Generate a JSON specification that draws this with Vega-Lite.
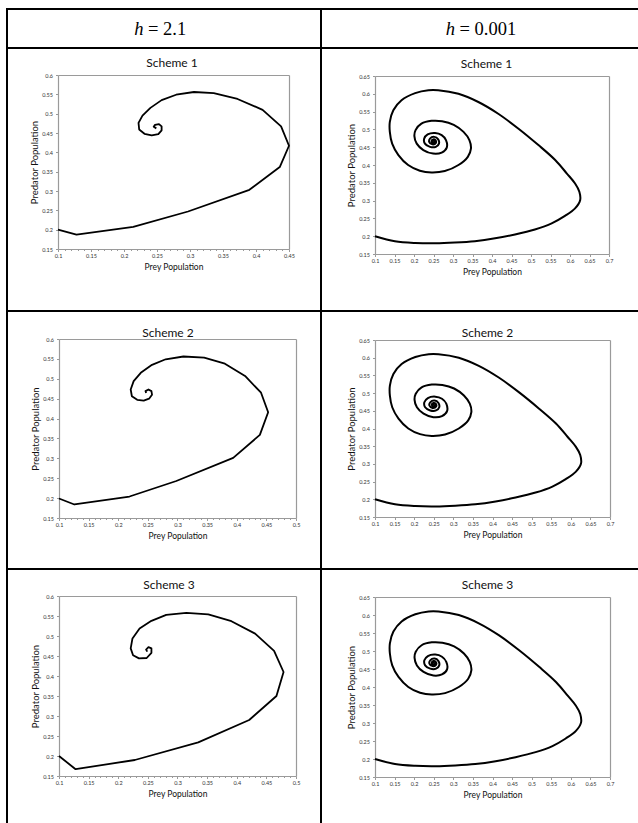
{
  "$schema": "https://vega.github.io/schema/vega-lite/v6.json",
  "padding": {"left": 6, "top": 8, "right": 0, "bottom": 0},
  "background": "white",
  "columns": 4,
  "spacing": 0,
  "bounds": "flush",
  "align": "each",
  "datasets": {
    "s1": [
      {"i":0,"x":0.100,"y":0.200},{"i":1,"x":0.128,"y":0.187},{"i":2,"x":0.214,"y":0.207},{"i":3,"x":0.297,"y":0.247},
      {"i":4,"x":0.390,"y":0.303},{"i":5,"x":0.436,"y":0.362},{"i":6,"x":0.450,"y":0.417},{"i":7,"x":0.438,"y":0.467},
      {"i":8,"x":0.410,"y":0.510},{"i":9,"x":0.372,"y":0.538},{"i":10,"x":0.336,"y":0.553},{"i":11,"x":0.306,"y":0.556},
      {"i":12,"x":0.279,"y":0.549},{"i":13,"x":0.257,"y":0.535},{"i":14,"x":0.240,"y":0.515},{"i":15,"x":0.228,"y":0.495},
      {"i":16,"x":0.222,"y":0.476},{"i":17,"x":0.223,"y":0.459},{"i":18,"x":0.231,"y":0.448},{"i":19,"x":0.242,"y":0.444},
      {"i":20,"x":0.252,"y":0.447},{"i":21,"x":0.257,"y":0.457},{"i":22,"x":0.257,"y":0.467},{"i":23,"x":0.253,"y":0.473},
      {"i":24,"x":0.247,"y":0.471},{"i":25,"x":0.245,"y":0.466},{"i":26,"x":0.249,"y":0.462}
    ],
    "s2": [
      {"i":0,"x":0.100,"y":0.199},{"i":1,"x":0.126,"y":0.184},{"i":2,"x":0.219,"y":0.204},{"i":3,"x":0.298,"y":0.243},
      {"i":4,"x":0.394,"y":0.301},{"i":5,"x":0.439,"y":0.359},{"i":6,"x":0.453,"y":0.416},{"i":7,"x":0.441,"y":0.465},
      {"i":8,"x":0.414,"y":0.507},{"i":9,"x":0.380,"y":0.538},{"i":10,"x":0.345,"y":0.553},{"i":11,"x":0.310,"y":0.556},
      {"i":12,"x":0.280,"y":0.549},{"i":13,"x":0.257,"y":0.535},{"i":14,"x":0.238,"y":0.515},{"i":15,"x":0.226,"y":0.494},
      {"i":16,"x":0.221,"y":0.473},{"i":17,"x":0.223,"y":0.456},{"i":18,"x":0.232,"y":0.447},{"i":19,"x":0.243,"y":0.445},
      {"i":20,"x":0.252,"y":0.450},{"i":21,"x":0.257,"y":0.460},{"i":22,"x":0.256,"y":0.469},{"i":23,"x":0.251,"y":0.473},
      {"i":24,"x":0.246,"y":0.469},{"i":25,"x":0.247,"y":0.464}
    ],
    "s3": [
      {"i":0,"x":0.100,"y":0.200},{"i":1,"x":0.128,"y":0.167},{"i":2,"x":0.228,"y":0.190},{"i":3,"x":0.335,"y":0.234},
      {"i":4,"x":0.421,"y":0.290},{"i":5,"x":0.467,"y":0.350},{"i":6,"x":0.479,"y":0.410},{"i":7,"x":0.463,"y":0.463},
      {"i":8,"x":0.431,"y":0.506},{"i":9,"x":0.391,"y":0.537},{"i":10,"x":0.352,"y":0.554},{"i":11,"x":0.315,"y":0.558},
      {"i":12,"x":0.281,"y":0.553},{"i":13,"x":0.256,"y":0.538},{"i":14,"x":0.236,"y":0.519},{"i":15,"x":0.224,"y":0.494},
      {"i":16,"x":0.221,"y":0.469},{"i":17,"x":0.225,"y":0.452},{"i":18,"x":0.235,"y":0.444},{"i":19,"x":0.248,"y":0.445},
      {"i":20,"x":0.256,"y":0.458},{"i":21,"x":0.256,"y":0.469},{"i":22,"x":0.251,"y":0.472},{"i":23,"x":0.247,"y":0.466},
      {"i":24,"x":0.249,"y":0.461}
    ],
    "fine": [
      {"i":0,"x":0.100,"y":0.200},{"i":1,"x":0.151,"y":0.186},{"i":2,"x":0.203,"y":0.181},{"i":3,"x":0.254,"y":0.180},
      {"i":4,"x":0.305,"y":0.182},{"i":5,"x":0.356,"y":0.186},{"i":6,"x":0.408,"y":0.194},{"i":7,"x":0.459,"y":0.205},
      {"i":8,"x":0.510,"y":0.219},{"i":9,"x":0.553,"y":0.236},{"i":10,"x":0.587,"y":0.257},{"i":11,"x":0.613,"y":0.278},
      {"i":12,"x":0.626,"y":0.301},{"i":13,"x":0.624,"y":0.325},{"i":14,"x":0.613,"y":0.348},{"i":15,"x":0.592,"y":0.376},
      {"i":16,"x":0.562,"y":0.414},{"i":17,"x":0.519,"y":0.456},{"i":18,"x":0.468,"y":0.502},{"i":19,"x":0.416,"y":0.544},
      {"i":20,"x":0.365,"y":0.577},{"i":21,"x":0.314,"y":0.600},{"i":22,"x":0.262,"y":0.610},{"i":23,"x":0.237,"y":0.610},
      {"i":24,"x":0.203,"y":0.602},{"i":25,"x":0.168,"y":0.582},{"i":26,"x":0.147,"y":0.554},{"i":27,"x":0.138,"y":0.521},
      {"i":28,"x":0.138,"y":0.493},{"i":29,"x":0.144,"y":0.460},{"i":30,"x":0.160,"y":0.428},{"i":31,"x":0.185,"y":0.400},
      {"i":32,"x":0.215,"y":0.384},{"i":33,"x":0.245,"y":0.379},{"i":34,"x":0.279,"y":0.383},{"i":35,"x":0.314,"y":0.400},
      {"i":36,"x":0.338,"y":0.423},{"i":37,"x":0.346,"y":0.446},{"i":38,"x":0.342,"y":0.470},{"i":39,"x":0.327,"y":0.493},
      {"i":40,"x":0.302,"y":0.513},{"i":41,"x":0.272,"y":0.523},{"i":42,"x":0.245,"y":0.524},{"i":43,"x":0.219,"y":0.516},
      {"i":44,"x":0.204,"y":0.498},{"i":45,"x":0.201,"y":0.481},{"i":46,"x":0.207,"y":0.460},{"i":47,"x":0.224,"y":0.442},
      {"i":48,"x":0.249,"y":0.432},{"i":49,"x":0.271,"y":0.435},{"i":50,"x":0.284,"y":0.449},{"i":51,"x":0.282,"y":0.470},
      {"i":52,"x":0.271,"y":0.484},{"i":53,"x":0.254,"y":0.490},{"i":54,"x":0.235,"y":0.486},{"i":55,"x":0.226,"y":0.474},
      {"i":56,"x":0.228,"y":0.460},{"i":57,"x":0.241,"y":0.451},{"i":58,"x":0.256,"y":0.451},{"i":59,"x":0.264,"y":0.460},
      {"i":60,"x":0.262,"y":0.472},{"i":61,"x":0.252,"y":0.479},{"i":62,"x":0.241,"y":0.474},{"i":63,"x":0.239,"y":0.465},
      {"i":64,"x":0.247,"y":0.458},{"i":65,"x":0.256,"y":0.462},{"i":66,"x":0.255,"y":0.470},{"i":67,"x":0.249,"y":0.472},
      {"i":68,"x":0.245,"y":0.467},{"i":69,"x":0.249,"y":0.462},{"i":70,"x":0.254,"y":0.465},{"i":71,"x":0.253,"y":0.470},
      {"i":72,"x":0.248,"y":0.470},{"i":73,"x":0.247,"y":0.465},{"i":74,"x":0.251,"y":0.464},{"i":75,"x":0.252,"y":0.468},
      {"i":76,"x":0.249,"y":0.468},{"i":77,"x":0.250,"y":0.466}
    ]
  },
  "concat": [
    {"width": 2, "height": 2, "data": {"values": []}, "mark": "rect", "view": {"fill": "black", "stroke": null}},
    {"width": 312, "height": 2, "data": {"values": []}, "mark": "rect", "view": {"fill": "black", "stroke": null}},
    {"width": 2, "height": 2, "data": {"values": []}, "mark": "rect", "view": {"fill": "black", "stroke": null}},
    {"width": 316, "height": 2, "data": {"values": []}, "mark": "rect", "view": {"fill": "black", "stroke": null}},

    {"width": 2, "height": 37, "data": {"values": []}, "mark": "rect", "view": {"fill": "black", "stroke": null}},
    {"width": 312, "height": 37, "data": {"values": [{"sym": "h", "rest": "= 2.1"}]},
      "layer": [
        {"mark": {"type": "text", "font": "Liberation Serif", "fontStyle": "italic", "fontSize": 18.5, "align": "right", "baseline": "middle", "dx": -20.5, "color": "black"}, "encoding": {"text": {"field": "sym"}}},
        {"mark": {"type": "text", "font": "Liberation Serif", "fontSize": 18.5, "align": "left", "baseline": "middle", "dx": -16, "color": "black"}, "encoding": {"text": {"field": "rest"}}}
      ]},
    {"width": 2, "height": 37, "data": {"values": []}, "mark": "rect", "view": {"fill": "black", "stroke": null}},
    {"width": 316, "height": 37, "data": {"values": [{"sym": "h", "rest": "= 0.001"}]},
      "layer": [
        {"mark": {"type": "text", "font": "Liberation Serif", "fontStyle": "italic", "fontSize": 18.5, "align": "right", "baseline": "middle", "dx": -25, "color": "black"}, "encoding": {"text": {"field": "sym"}}},
        {"mark": {"type": "text", "font": "Liberation Serif", "fontSize": 18.5, "align": "left", "baseline": "middle", "dx": -20.5, "color": "black"}, "encoding": {"text": {"field": "rest"}}}
      ]},

    {"width": 2, "height": 2, "data": {"values": []}, "mark": "rect", "view": {"fill": "black", "stroke": null}},
    {"width": 312, "height": 2, "data": {"values": []}, "mark": "rect", "view": {"fill": "black", "stroke": null}},
    {"width": 2, "height": 2, "data": {"values": []}, "mark": "rect", "view": {"fill": "black", "stroke": null}},
    {"width": 316, "height": 2, "data": {"values": []}, "mark": "rect", "view": {"fill": "black", "stroke": null}},

    {"width": 2, "height": 261, "data": {"values": []}, "mark": "rect", "view": {"fill": "black", "stroke": null}},
    {"width": 312, "height": 261,
      "title": {"text": "Scheme 1", "frame": "group", "anchor": "middle", "baseline": "middle", "offset": 0, "dx": 8, "dy": 26},
      "data": {"name": "s1"},
      "layer": [
        {"mark": {"type": "line", "color": "black", "strokeWidth": 1.8, "strokeJoin": "round"},
          "encoding": {
            "x": {"field": "x", "type": "quantitative", "scale": {"domain": [0.1, 0.45], "range": [50, 281], "nice": false, "zero": false},
              "axis": {"orient": "bottom", "offset": -61, "values": [0.1, 0.15, 0.2, 0.25, 0.3, 0.35, 0.4, 0.45], "format": ".2~f", "title": "Prey Population"}},
            "y": {"field": "y", "type": "quantitative", "scale": {"domain": [0.15, 0.6], "range": [200, 26], "nice": false, "zero": false},
              "axis": {"orient": "left", "offset": -50, "values": [0.15, 0.2, 0.25, 0.3, 0.35, 0.4, 0.45, 0.5, 0.55, 0.6], "format": ".2~f", "title": "Predator Population"}},
            "order": {"field": "i"}
          }},
        {"mark": {"type": "point", "opacity": 0},
          "encoding": {
            "x": {"field": "x", "type": "quantitative", "axis": {"orient": "top", "offset": -26, "ticks": false, "labels": false, "title": null}},
            "y": {"field": "y", "type": "quantitative", "axis": {"orient": "right", "offset": -31, "ticks": false, "labels": false, "title": null}}
          }},
        {"mark": {"type": "point", "opacity": 0},
          "encoding": {
            "x": {"field": "x", "type": "quantitative", "axis": {"orient": "bottom", "offset": -61, "domain": false, "labels": false, "tickSize": 1.5, "title": null,
              "values": [0.11,0.12,0.13,0.14,0.16,0.17,0.18,0.19,0.21,0.22,0.23,0.24,0.26,0.27,0.28,0.29,0.31,0.32,0.33,0.34,0.36,0.37,0.38,0.39,0.41,0.42,0.43,0.44]}},
            "y": {"field": "y", "type": "quantitative", "axis": null}
          }}
      ],
      "resolve": {"axis": {"x": "independent", "y": "independent"}}
    },
    {"width": 2, "height": 261, "data": {"values": []}, "mark": "rect", "view": {"fill": "black", "stroke": null}},
    {"width": 316, "height": 261,
      "title": {"text": "Scheme 1", "frame": "group", "anchor": "middle", "baseline": "middle", "offset": 0, "dx": 6.5, "dy": 26.5},
      "data": {"name": "fine"},
      "layer": [
        {"mark": {"type": "line", "color": "black", "strokeWidth": 2, "interpolate": "catmull-rom"},
          "encoding": {
            "x": {"field": "x", "type": "quantitative", "scale": {"domain": [0.1, 0.7], "range": [53, 287], "nice": false, "zero": false},
              "axis": {"orient": "bottom", "offset": -56, "values": [0.1, 0.15, 0.2, 0.25, 0.3, 0.35, 0.4, 0.45, 0.5, 0.55, 0.6, 0.65, 0.7], "format": ".2~f", "title": "Prey Population"}},
            "y": {"field": "y", "type": "quantitative", "scale": {"domain": [0.15, 0.65], "range": [205, 27], "nice": false, "zero": false},
              "axis": {"orient": "left", "offset": -53, "values": [0.15, 0.2, 0.25, 0.3, 0.35, 0.4, 0.45, 0.5, 0.55, 0.6, 0.65], "format": ".2~f", "title": "Predator Population"}},
            "order": {"field": "i"}
          }},
        {"mark": {"type": "point", "opacity": 0},
          "encoding": {
            "x": {"field": "x", "type": "quantitative", "axis": {"orient": "top", "offset": -27, "ticks": false, "labels": false, "title": null}},
            "y": {"field": "y", "type": "quantitative", "axis": {"orient": "right", "offset": -29, "ticks": false, "labels": false, "title": null}}
          }}
      ],
      "resolve": {"axis": {"x": "independent", "y": "independent"}}
    },

    {"width": 2, "height": 2, "data": {"values": []}, "mark": "rect", "view": {"fill": "black", "stroke": null}},
    {"width": 312, "height": 2, "data": {"values": []}, "mark": "rect", "view": {"fill": "black", "stroke": null}},
    {"width": 2, "height": 2, "data": {"values": []}, "mark": "rect", "view": {"fill": "black", "stroke": null}},
    {"width": 316, "height": 2, "data": {"values": []}, "mark": "rect", "view": {"fill": "black", "stroke": null}},

    {"width": 2, "height": 256, "data": {"values": []}, "mark": "rect", "view": {"fill": "black", "stroke": null}},
    {"width": 312, "height": 256,
      "title": {"text": "Scheme 2", "frame": "group", "anchor": "middle", "baseline": "middle", "offset": 0, "dx": 4, "dy": 33},
      "data": {"name": "s2"},
      "layer": [
        {"mark": {"type": "line", "color": "black", "strokeWidth": 1.8, "strokeJoin": "round"},
          "encoding": {
            "x": {"field": "x", "type": "quantitative", "scale": {"domain": [0.1, 0.5], "range": [51, 288], "nice": false, "zero": false},
              "axis": {"orient": "bottom", "offset": -50, "values": [0.1, 0.15, 0.2, 0.25, 0.3, 0.35, 0.4, 0.45, 0.5], "format": ".2~f", "title": "Prey Population"}},
            "y": {"field": "y", "type": "quantitative", "scale": {"domain": [0.15, 0.6], "range": [206, 27], "nice": false, "zero": false},
              "axis": {"orient": "left", "offset": -51, "values": [0.15, 0.2, 0.25, 0.3, 0.35, 0.4, 0.45, 0.5, 0.55, 0.6], "format": ".2~f", "title": "Predator Population"}},
            "order": {"field": "i"}
          }},
        {"mark": {"type": "point", "opacity": 0},
          "encoding": {
            "x": {"field": "x", "type": "quantitative", "axis": {"orient": "top", "offset": -27, "ticks": false, "labels": false, "title": null}},
            "y": {"field": "y", "type": "quantitative", "axis": {"orient": "right", "offset": -24, "ticks": false, "labels": false, "title": null}}
          }},
        {"mark": {"type": "point", "opacity": 0},
          "encoding": {
            "x": {"field": "x", "type": "quantitative", "axis": {"orient": "bottom", "offset": -50, "domain": false, "labels": false, "tickSize": 1.5, "title": null,
              "values": [0.11,0.12,0.13,0.14,0.16,0.17,0.18,0.19,0.21,0.22,0.23,0.24,0.26,0.27,0.28,0.29,0.31,0.32,0.33,0.34,0.36,0.37,0.38,0.39,0.41,0.42,0.43,0.44,0.46,0.47,0.48,0.49]}},
            "y": {"field": "y", "type": "quantitative", "axis": null}
          }}
      ],
      "resolve": {"axis": {"x": "independent", "y": "independent"}}
    },
    {"width": 2, "height": 256, "data": {"values": []}, "mark": "rect", "view": {"fill": "black", "stroke": null}},
    {"width": 316, "height": 256,
      "title": {"text": "Scheme 2", "frame": "group", "anchor": "middle", "baseline": "middle", "offset": 0, "dx": 7.5, "dy": 33},
      "data": {"name": "fine"},
      "layer": [
        {"mark": {"type": "line", "color": "black", "strokeWidth": 2, "interpolate": "catmull-rom"},
          "encoding": {
            "x": {"field": "x", "type": "quantitative", "scale": {"domain": [0.1, 0.7], "range": [53, 288], "nice": false, "zero": false},
              "axis": {"orient": "bottom", "offset": -51, "values": [0.1, 0.15, 0.2, 0.25, 0.3, 0.35, 0.4, 0.45, 0.5, 0.55, 0.6, 0.65, 0.7], "format": ".2~f", "title": "Prey Population"}},
            "y": {"field": "y", "type": "quantitative", "scale": {"domain": [0.15, 0.65], "range": [205, 28], "nice": false, "zero": false},
              "axis": {"orient": "left", "offset": -53, "values": [0.15, 0.2, 0.25, 0.3, 0.35, 0.4, 0.45, 0.5, 0.55, 0.6, 0.65], "format": ".2~f", "title": "Predator Population"}},
            "order": {"field": "i"}
          }},
        {"mark": {"type": "point", "opacity": 0},
          "encoding": {
            "x": {"field": "x", "type": "quantitative", "axis": {"orient": "top", "offset": -28, "ticks": false, "labels": false, "title": null}},
            "y": {"field": "y", "type": "quantitative", "axis": {"orient": "right", "offset": -28, "ticks": false, "labels": false, "title": null}}
          }}
      ],
      "resolve": {"axis": {"x": "independent", "y": "independent"}}
    },

    {"width": 2, "height": 2, "data": {"values": []}, "mark": "rect", "view": {"fill": "black", "stroke": null}},
    {"width": 312, "height": 2, "data": {"values": []}, "mark": "rect", "view": {"fill": "black", "stroke": null}},
    {"width": 2, "height": 2, "data": {"values": []}, "mark": "rect", "view": {"fill": "black", "stroke": null}},
    {"width": 316, "height": 2, "data": {"values": []}, "mark": "rect", "view": {"fill": "black", "stroke": null}},

    {"width": 2, "height": 253, "data": {"values": []}, "mark": "rect", "view": {"fill": "black", "stroke": null}},
    {"width": 312, "height": 253,
      "title": {"text": "Scheme 3", "frame": "group", "anchor": "middle", "baseline": "middle", "offset": 0, "dx": 5, "dy": 27},
      "data": {"name": "s3"},
      "layer": [
        {"mark": {"type": "line", "color": "black", "strokeWidth": 1.8, "strokeJoin": "round"},
          "encoding": {
            "x": {"field": "x", "type": "quantitative", "scale": {"domain": [0.1, 0.5], "range": [51, 288], "nice": false, "zero": false},
              "axis": {"orient": "bottom", "offset": -47, "values": [0.1, 0.15, 0.2, 0.25, 0.3, 0.35, 0.4, 0.45, 0.5], "format": ".2~f", "title": "Prey Population"}},
            "y": {"field": "y", "type": "quantitative", "scale": {"domain": [0.15, 0.6], "range": [206, 26], "nice": false, "zero": false},
              "axis": {"orient": "left", "offset": -51, "values": [0.15, 0.2, 0.25, 0.3, 0.35, 0.4, 0.45, 0.5, 0.55, 0.6], "format": ".2~f", "title": "Predator Population"}},
            "order": {"field": "i"}
          }},
        {"mark": {"type": "point", "opacity": 0},
          "encoding": {
            "x": {"field": "x", "type": "quantitative", "axis": {"orient": "top", "offset": -26, "ticks": false, "labels": false, "title": null}},
            "y": {"field": "y", "type": "quantitative", "axis": {"orient": "right", "offset": -24, "ticks": false, "labels": false, "title": null}}
          }},
        {"mark": {"type": "point", "opacity": 0},
          "encoding": {
            "x": {"field": "x", "type": "quantitative", "axis": {"orient": "bottom", "offset": -47, "domain": false, "labels": false, "tickSize": 1.5, "title": null,
              "values": [0.11,0.12,0.13,0.14,0.16,0.17,0.18,0.19,0.21,0.22,0.23,0.24,0.26,0.27,0.28,0.29,0.31,0.32,0.33,0.34,0.36,0.37,0.38,0.39,0.41,0.42,0.43,0.44,0.46,0.47,0.48,0.49]}},
            "y": {"field": "y", "type": "quantitative", "axis": null}
          }}
      ],
      "resolve": {"axis": {"x": "independent", "y": "independent"}}
    },
    {"width": 2, "height": 253, "data": {"values": []}, "mark": "rect", "view": {"fill": "black", "stroke": null}},
    {"width": 316, "height": 253,
      "title": {"text": "Scheme 3", "frame": "group", "anchor": "middle", "baseline": "middle", "offset": 0, "dx": 7.5, "dy": 27},
      "data": {"name": "fine"},
      "layer": [
        {"mark": {"type": "line", "color": "black", "strokeWidth": 2, "interpolate": "catmull-rom"},
          "encoding": {
            "x": {"field": "x", "type": "quantitative", "scale": {"domain": [0.1, 0.7], "range": [53, 288], "nice": false, "zero": false},
              "axis": {"orient": "bottom", "offset": -46, "values": [0.1, 0.15, 0.2, 0.25, 0.3, 0.35, 0.4, 0.45, 0.5, 0.55, 0.6, 0.65, 0.7], "format": ".2~f", "title": "Prey Population"}},
            "y": {"field": "y", "type": "quantitative", "scale": {"domain": [0.15, 0.65], "range": [207, 27], "nice": false, "zero": false},
              "axis": {"orient": "left", "offset": -53, "values": [0.15, 0.2, 0.25, 0.3, 0.35, 0.4, 0.45, 0.5, 0.55, 0.6, 0.65], "format": ".2~f", "title": "Predator Population"}},
            "order": {"field": "i"}
          }},
        {"mark": {"type": "point", "opacity": 0},
          "encoding": {
            "x": {"field": "x", "type": "quantitative", "axis": {"orient": "top", "offset": -27, "ticks": false, "labels": false, "title": null}},
            "y": {"field": "y", "type": "quantitative", "axis": {"orient": "right", "offset": -28, "ticks": false, "labels": false, "title": null}}
          }}
      ],
      "resolve": {"axis": {"x": "independent", "y": "independent"}}
    }
  ],
  "config": {
    "view": {"stroke": null},
    "axis": {
      "grid": false,
      "domainColor": "#9a9a9a",
      "domainWidth": 1.2,
      "tickColor": "#9a9a9a",
      "tickWidth": 1,
      "tickSize": 2.5,
      "labelFont": "Lato",
      "labelFontSize": 5.5,
      "labelColor": "#333333",
      "labelPadding": 2,
      "labelFlush": false,
      "labelOverlap": false,
      "titleFont": "Lato",
      "titleFontWeight": "normal",
      "titleColor": "#111111",
      "titleFontSize": 8.5,
      "titlePadding": 3,
      "minExtent": 0
    },
    "axisY": {"labelPadding": 3, "titleFontSize": 9.5, "titlePadding": 2, "minExtent": 0},
    "title": {"font": "Lato", "fontSize": 12, "fontWeight": "normal", "color": "#111111"}
  }
}
